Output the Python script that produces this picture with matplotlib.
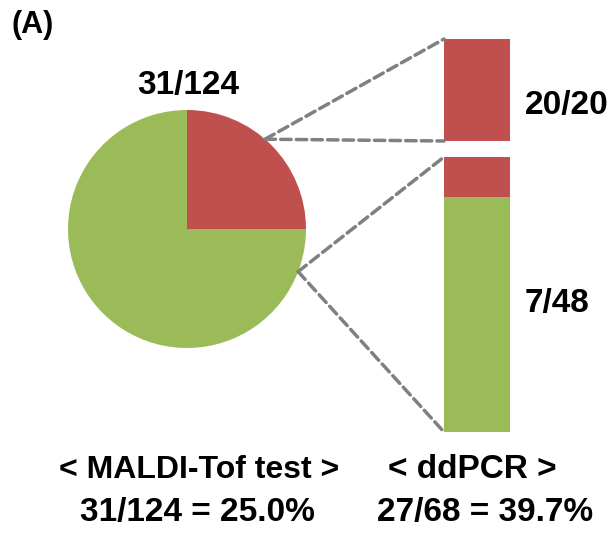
import matplotlib
matplotlib.use('Agg')
import matplotlib.pyplot as plt
from matplotlib.patches import ConnectionPatch
import numpy as np

# data
pie_labels = ['positive', 'negative']
pie_counts = [31, 93]               # 31/124 MALDI-Tof
bar_top_counts = [20, 0]            # 20/20 (red, green)
bar_low_counts = [7, 41]            # 7/48 (red, green)
red = '#C0504D'
green = '#9BBB59'
gray = '#808080'

W, H = 614, 537
plt.rcParams['font.family'] = ['Liberation Sans', 'DejaVu Sans']
plt.rcParams['font.weight'] = 'bold'

fig = plt.figure(figsize=(W / 100, H / 100), dpi=100)

def px_axes(x0, y0, x1, y1):
    # axes placed from pixel box (top-left origin)
    return fig.add_axes([x0 / W, 1 - y1 / H, (x1 - x0) / W, (y1 - y0) / H])

# pie
ax_pie = px_axes(68, 110, 306, 348)
ax_pie.pie(pie_counts, colors=[red, green], startangle=0, counterclock=True,
           radius=1, wedgeprops=dict(linewidth=0))
ax_pie.set_xlim(-1, 1)
ax_pie.set_ylim(-1, 1)
ax_pie.set_aspect('equal')
ax_pie.axis('off')

# bars (each shown as fractions of its own total)
def stacked_bar(ax, counts):
    total = sum(counts)
    fr = [c / total for c in counts]
    # red on top, green below
    ax.bar([0], [fr[1]], bottom=[0], width=1, color=green, linewidth=0)
    ax.bar([0], [fr[0]], bottom=[fr[1]], width=1, color=red, linewidth=0)
    ax.set_xlim(-0.5, 0.5)
    ax.set_ylim(0, 1)
    ax.axis('off')

ax_top = px_axes(444, 39, 510, 141)
stacked_bar(ax_top, bar_top_counts)
ax_low = px_axes(444, 157, 510, 432)
stacked_bar(ax_low, bar_low_counts)

# dashed connectors from the pie to the bars
def pie_pt(deg):
    a = np.deg2rad(deg)
    return (np.cos(a), np.sin(a))

for deg, ax_b in [(49, ax_top), (-21, ax_low)]:
    for yb in (1, 0):
        con = ConnectionPatch(xyA=pie_pt(deg), coordsA=ax_pie.transData,
                              xyB=(-0.5, yb), coordsB=ax_b.transData,
                              color=gray, lw=2.5, linestyle=(0, (3, 1.5)))
        fig.add_artist(con)

def ftext(x, y, s, size=24, ha='center'):
    fig.text(x / W, 1 - y / H, s, fontsize=size, fontweight='bold',
             ha=ha, va='baseline', color='black')

ftext(12, 33, '(A)', size=22, ha='left')
ftext(188, 94, f'{pie_counts[0]}/{sum(pie_counts)}')
ftext(525, 114, f'{bar_top_counts[0]}/{sum(bar_top_counts)}', ha='left')
ftext(525, 312, f'{bar_low_counts[0]}/{sum(bar_low_counts)}', ha='left')
ftext(199, 478, '< MALDI-Tof test >', size=23)
ftext(197, 521, '31/124 = 25.0%')
ftext(472, 478, '< ddPCR >')
ftext(485, 521, '27/68 = 39.7%')

fig.savefig('out.png', dpi=100)
